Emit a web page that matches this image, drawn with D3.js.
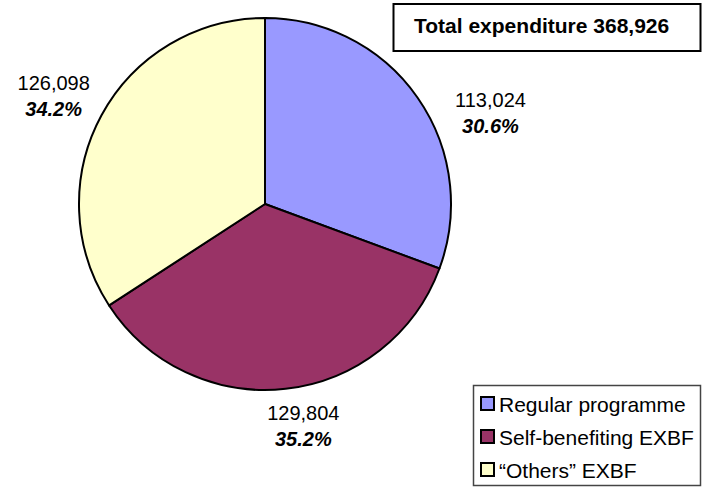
<!DOCTYPE html>
<html>
<head>
<meta charset="utf-8">
<script src="https://cdn.jsdelivr.net/npm/d3@7"></script>
<style>
  html, body { margin: 0; padding: 0; background: #fff; }
  svg { display: block; font-family: Arial, "Liberation Sans", sans-serif; }
</style>
</head>
<body>
<svg id="chart" width="704" height="487"></svg>
<script>
const categories = ["Regular programme", "Self-benefiting EXBF", "\u201cOthers\u201d EXBF"];
const values = [113024, 129804, 126098];
const colors = ["#9999FF", "#993366", "#FFFFCC"];
const titleText = "Total expenditure 368,926";
// label nudges (layout only), relative to centroid at label radius
const labelNudge = [[31, 38], [12, -20], [-3, -1]];

const svg = d3.select("#chart");
const cx = 265, cy = 204, R = 186, labelR = 237;

const total = d3.sum(values);
const pie = d3.pie().sort(null).value(d => d)(values);
const arc = d3.arc().innerRadius(0).outerRadius(R);
const labelArc = d3.arc().innerRadius(labelR).outerRadius(labelR);

const g = svg.append("g").attr("transform", `translate(${cx},${cy})`);
g.selectAll("path.slice").data(pie).enter().append("path")
  .attr("class", "slice")
  .attr("d", arc)
  .attr("fill", (d, i) => colors[i])
  .attr("stroke", "#000")
  .attr("stroke-width", 2)
  .attr("stroke-linejoin", "round");

const fmt = d3.format(",");
const pct = d3.format(".1%");
const labels = g.selectAll("g.lab").data(pie).enter().append("g")
  .attr("class", "lab")
  .attr("transform", (d, i) => {
    const c = labelArc.centroid(d);
    return `translate(${c[0] + labelNudge[i][0]},${c[1] + labelNudge[i][1]})`;
  });
labels.append("text")
  .attr("text-anchor", "middle")
  .attr("font-size", 20)
  .attr("fill", "#000")
  .text(d => fmt(d.data));
labels.append("text")
  .attr("text-anchor", "middle")
  .attr("y", 26)
  .attr("font-size", 20)
  .attr("font-weight", "bold")
  .attr("font-style", "italic")
  .attr("fill", "#000")
  .text(d => pct(d.data / total));

// Title box
svg.append("rect")
  .attr("x", 393.5).attr("y", 4).attr("width", 307).attr("height", 47)
  .attr("fill", "#fff").attr("stroke", "#000").attr("stroke-width", 2);
svg.append("text")
  .attr("x", 414).attr("y", 33)
  .attr("font-size", 21).attr("font-weight", "bold")
  .text(titleText);

// Legend
svg.append("rect")
  .attr("x", 473.5).attr("y", 385.5).attr("width", 227).attr("height", 100)
  .attr("fill", "#fff").attr("stroke", "#444").attr("stroke-width", 1.5);
const leg = svg.selectAll("g.leg").data(categories).enter().append("g")
  .attr("class", "leg")
  .attr("transform", (d, i) => `translate(481,${397 + i * 33})`);
leg.append("rect")
  .attr("width", 13).attr("height", 13)
  .attr("fill", (d, i) => colors[i])
  .attr("stroke", "#000").attr("stroke-width", 2);
leg.append("text")
  .attr("x", 18).attr("y", 15)
  .attr("font-size", 21)
  .text(d => d);
</script>
</body>
</html>
